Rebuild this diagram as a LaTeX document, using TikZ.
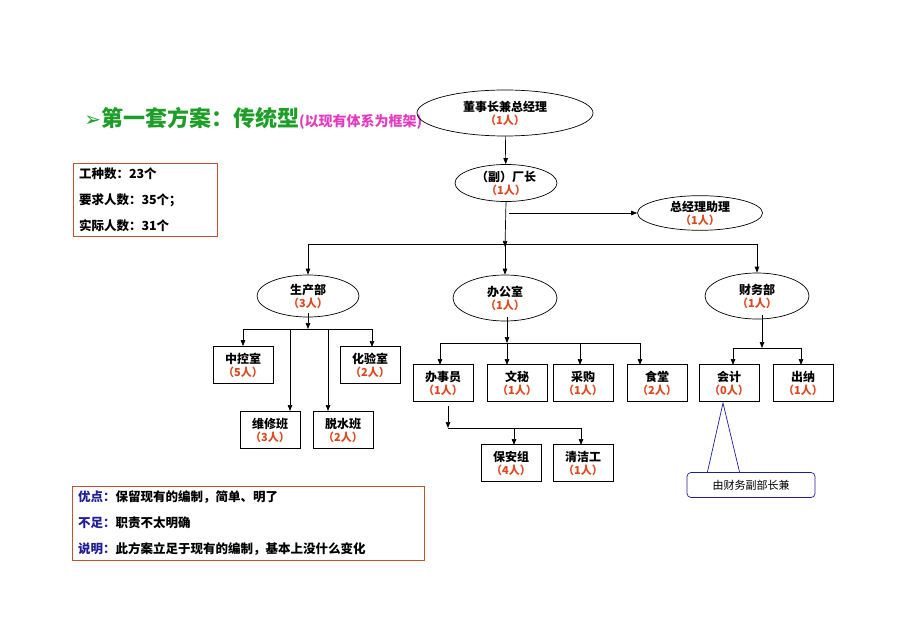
\documentclass[tikz,border=0pt]{standalone}
\usepackage{fontspec}
\setmainfont{Noto Sans CJK SC}
\newfontfamily\symfont{DejaVu Sans}
\usetikzlibrary{shapes.geometric, arrows.meta}
\definecolor{titlegreen}{RGB}{30,158,40}
\definecolor{notepink}{RGB}{226,60,190}
\definecolor{countred}{RGB}{222,72,30}
\definecolor{framered}{RGB}{200,80,45}
\definecolor{noteblue}{RGB}{30,30,150}

\newcommand{\unitlabel}[2]{#1\\[-1pt]{\color{countred}\fontsize{11}{13}\selectfont （#2人）}}

\begin{document}
\begin{tikzpicture}[x=1pt, y=-1pt, >={Triangle[length=6pt,width=4.5pt]}, line width=0.7pt,
    font=\bfseries\fontsize{12}{14}\selectfont]
    \tikzset{
        post/.style={ellipse, draw, inner sep=0pt, align=center},
        team/.style={rectangle, draw, minimum width=60pt, minimum height=37pt, inner sep=0pt, align=center},
        infobox/.style={rectangle, draw=framered, inner xsep=6pt, inner ysep=0pt, align=left, font=\bfseries\fontsize{12.5}{26}\selectfont}
    }
    \useasboundingbox[fill=white] (0,0) rectangle (920,636);

    % title
    \node[anchor=west, inner sep=0pt] (title) at (84,118)
        {{\symfont\color{titlegreen}\fontsize{20}{22}\selectfont ➢}{\color{titlegreen}\fontsize{22}{24}\selectfont 第一套方案：传统型}{\color{notepink}\fontsize{14}{16}\selectfont (以现有体系为框架)}};

    % top levels
    \node[post, minimum width=176pt, minimum height=46pt] (ceo) at (505,113) {\unitlabel{董事长兼总经理}{1}};
    \node[post, minimum width=102pt, minimum height=37pt] (vice) at (506,183) {\unitlabel{（副）厂长}{1}};
    \node[post, minimum width=125pt, minimum height=32pt] (assist) at (700,213) {\unitlabel{总经理助理}{1}};

    % departments
    \node[post, minimum width=102pt, minimum height=42pt] (prod) at (308,296) {\unitlabel{生产部}{3}};
    \node[post, minimum width=104pt, minimum height=46pt] (office) at (505,298) {\unitlabel{办公室}{1}};
    \node[post, minimum width=104pt, minimum height=46pt] (fin) at (757,296) {\unitlabel{财务部}{1}};

    % teams
    \node[team] (zk) at (243,365) {\unitlabel{中控室}{5}};
    \node[team] (hy) at (370,365) {\unitlabel{化验室}{2}};
    \node[team] (wx) at (270,430) {\unitlabel{维修班}{3}};
    \node[team] (ts) at (343,430) {\unitlabel{脱水班}{2}};

    \node[team] (bsy) at (443,383) {\unitlabel{办事员}{1}};
    \node[team] (wm) at (517,383) {\unitlabel{文秘}{1}};
    \node[team] (cg) at (583,383) {\unitlabel{采购}{1}};
    \node[team] (st) at (657,383) {\unitlabel{食堂}{2}};
    \node[team] (ba) at (511,463) {\unitlabel{保安组}{4}};
    \node[team] (qj) at (583,463) {\unitlabel{清洁工}{1}};

    \node[team] (kj) at (729,383) {\unitlabel{会计}{0}};
    \node[team] (cn) at (803,383) {\unitlabel{出纳}{1}};

    % bus points
    \coordinate (top) at (505,244);
    \coordinate (pbus) at (308,329);
    \coordinate (obus) at (507,343);
    \coordinate (sbus) at (448,428);
    \coordinate (fbus) at (762,348);

    \path[->]
        (ceo) edge (vice)
        ([xshift=3pt]vice.south |- assist.west) edge (assist.west)
        (vice.south) edge ([yshift=-3pt]top);

    \draw (prod.north |- top) -- (fin.north |- top);
    \path[->]
        (prod.north |- top) edge (prod.north)
        (top) edge (office.north)
        (fin.north |- top) edge (fin.north);

    % production
    \draw[->] ([yshift=4pt]prod.south) -- (pbus);
    \draw (zk.north |- pbus) -- (372,329);
    \path[->]
        (zk.north |- pbus) edge (zk.north)
        (372,329) edge (372,347)
        (290,329) edge (290,411)
        (328,329) edge (328,411);

    % office
    \draw[->] ([xshift=2pt,yshift=4pt]office.south) -- (obus);
    \draw (440,343) -- (640,343);
    \path[->]
        (440,343) edge (440,365)
        (obus) edge (507,365)
        (580,343) edge (580,365)
        (640,343) edge (640,365);
    \draw[->] (448,406) -- (sbus);
    \draw (sbus) -- (581,428);
    \path[->]
        (514,428) edge (514,445)
        (581,428) edge (581,445);

    % finance
    \draw[->] ([xshift=5pt,yshift=4pt]fin.south) -- (fbus);
    \draw (733,348) -- (801,348);
    \path[->]
        (733,348) edge (733,365)
        (801,348) edge (801,365);

    % callout
    \coordinate (tip) at (723,403);
    \draw[noteblue] (707,474) -- (tip) -- (740,474);
    \node[rectangle, rounded corners=4pt, draw=noteblue, fill=white, minimum width=128pt, minimum height=25pt,
        font=\fontsize{11}{13}\selectfont] (note) at (751,485) {由财务副部长兼};

    % text boxes
    \node[infobox, minimum width=144pt, minimum height=73pt, text width=132pt] (count) at (145,200)
        {工种数：23个\\要求人数：35个；\\实际人数：31个};
    \node[infobox, minimum width=352pt, minimum height=74pt, text width=340pt] (remark) at (248,523)
        {{\color{noteblue}优点：}保留现有的编制，简单、明了\\{\color{noteblue}不足：}职责不太明确\\{\color{noteblue}说明：}此方案立足于现有的编制，基本上没什么变化};

\end{tikzpicture}
\end{document}
